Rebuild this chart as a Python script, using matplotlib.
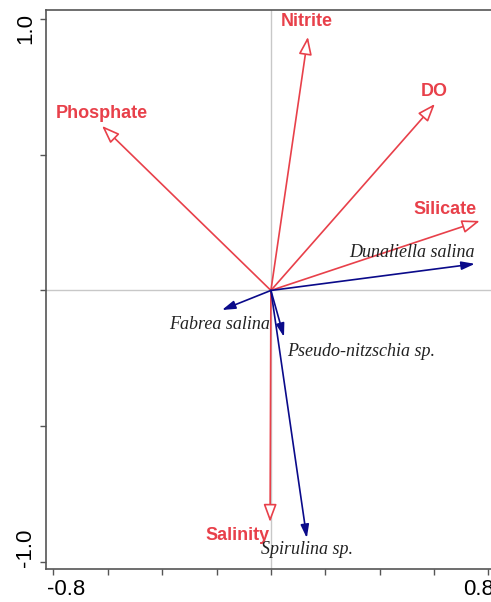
# RDA-style biplot: environmental variables (red) and species (blue)
import matplotlib
matplotlib.use("Agg")
import matplotlib.pyplot as plt
from matplotlib.transforms import ScaledTranslation

# Environmental variable arrows (tips)
env_names = ["Nitrite", "DO", "Phosphate", "Silicate", "Salinity"]
env_x = [0.136, 0.603, -0.621, 0.768, -0.003]
env_y = [0.934, 0.687, 0.606, 0.256, -0.853]

# Species arrows (tips)
sp_names = ["Dunaliella salina", "Fabrea salina", "Pseudo-nitzschia sp.", "Spirulina sp."]
sp_x = [0.750, -0.180, 0.048, 0.132]
sp_y = [0.098, -0.072, -0.171, -0.912]

# label offsets from arrow tips (points) and alignment
env_off = [(-0.7, 10.8), (-0.7, 8.6), (0, 8.6), (-25, 8.6), (-0.7, -9.4)]
env_ha = ["center", "center", "center", "center", "right"]
sp_off = [(0, 8), (34.6, -10.8), (2.2, -10.8), (0, -8.6)]
sp_ha = ["right", "right", "left", "center"]

red = "#e8404a"
blue = "#0a0a8a"

fig = plt.figure(figsize=(4.91, 6.02), dpi=100)
ax = fig.add_axes([46 / 491, 1 - 569 / 602, 452 / 491, 559 / 602])
ax.set_xlim(-0.827, 0.835)
ax.set_ylim(-1.026, 1.033)

ax.axvline(0, color="#c8c8c8", lw=1, zorder=0)
ax.axhline(0, color="#c8c8c8", lw=1, zorder=0)

for x, y in zip(env_x, env_y):
    ax.annotate("", xy=(x, y), xytext=(0, 0),
                arrowprops=dict(arrowstyle="-|>,head_length=1.08,head_width=0.4",
                                mutation_scale=10, fc="white", ec=red, lw=1.2,
                                shrinkA=0, shrinkB=0))
for name, x, y, off, ha in zip(env_names, env_x, env_y, env_off, env_ha):
    ax.annotate(name, xy=(x, y), xytext=off, textcoords="offset points",
                ha=ha, va="center", color=red, fontsize=13, fontweight="bold",
                family="Liberation Sans")

for x, y in zip(sp_x, sp_y):
    ax.annotate("", xy=(x, y), xytext=(0, 0),
                arrowprops=dict(arrowstyle="-|>,head_length=0.8,head_width=0.25",
                                mutation_scale=10, fc=blue, ec=blue, lw=1.2,
                                shrinkA=0, shrinkB=0))
for name, x, y, off, ha in zip(sp_names, sp_x, sp_y, sp_off, sp_ha):
    ax.annotate(name, xy=(x, y), xytext=off, textcoords="offset points",
                ha=ha, va="center", color="#222222", fontsize=13, style="italic",
                family="Liberation Serif")

# axes styling, R-like
ax.spines["right"].set_visible(False)
for s in ["left", "bottom", "top"]:
    ax.spines[s].set_color("#555555")
    ax.spines[s].set_linewidth(1.2)

xt = [-0.8, -0.6, -0.4, -0.2, 0.0, 0.2, 0.4, 0.6, 0.8]
ax.set_xticks(xt)
ax.set_xticklabels(["-0.8", "", "", "", "", "", "", "", "0.8"])
yt = [-1.0, -0.5, 0.0, 0.5, 1.0]
ax.set_yticks(yt)
ax.set_yticklabels(["-1.0", "", "", "", "1.0"], rotation=90, va="center")
ax.tick_params(labelsize=16, length=4, width=1, color="#555555", pad=3)
for lab in ax.get_xticklabels() + ax.get_yticklabels():
    lab.set_family("Liberation Sans")

# end labels sit slightly inward of their ticks, as in the original
xl = ax.get_xticklabels()
xl[0].set_transform(xl[0].get_transform() + ScaledTranslation(13 / 100, 0, fig.dpi_scale_trans))
xl[-1].set_transform(xl[-1].get_transform() + ScaledTranslation(-10 / 100, 0, fig.dpi_scale_trans))
yl = ax.get_yticklabels()
yl[0].set_transform(yl[0].get_transform() + ScaledTranslation(0, 14 / 100, fig.dpi_scale_trans))
yl[-1].set_transform(yl[-1].get_transform() + ScaledTranslation(0, -10 / 100, fig.dpi_scale_trans))

fig.savefig("out.png", dpi=100)
